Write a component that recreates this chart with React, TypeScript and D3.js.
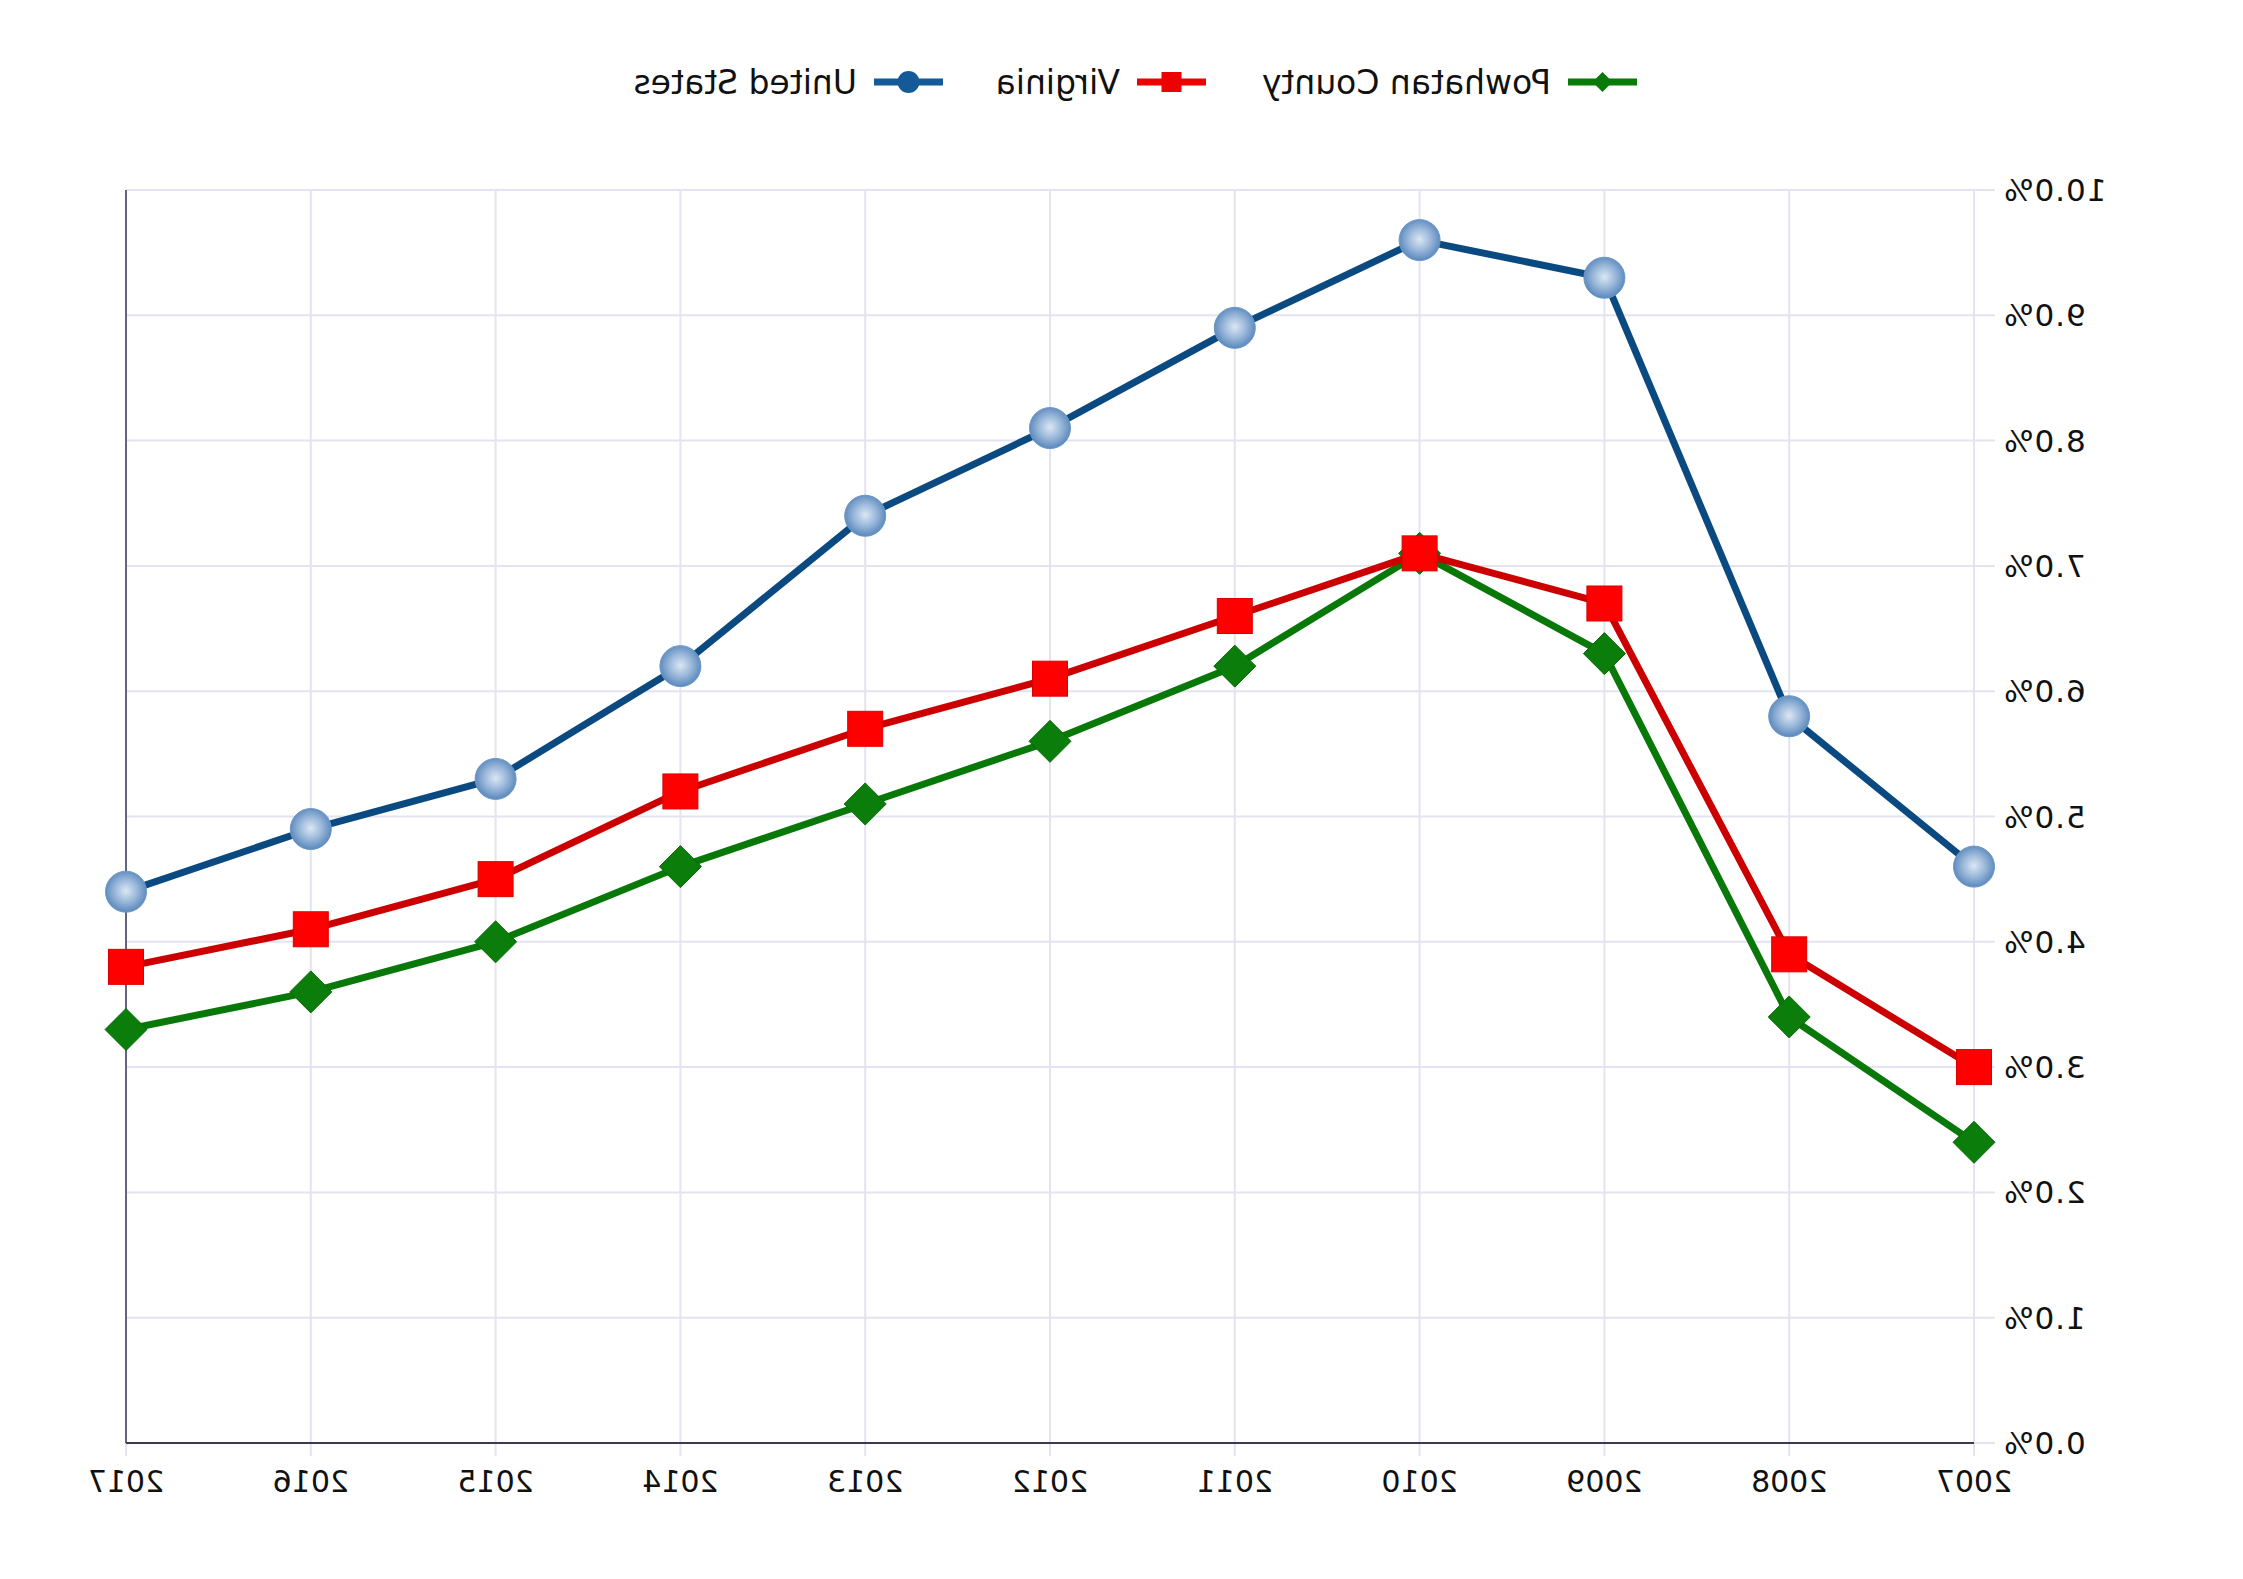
import React from "react";
import * as d3 from "d3";

const years = [2007, 2008, 2009, 2010, 2011, 2012, 2013, 2014, 2015, 2016, 2017];
const unitedStates = [4.6, 5.8, 9.3, 9.6, 8.9, 8.1, 7.4, 6.2, 5.3, 4.9, 4.4];
const virginia = [3.0, 3.9, 6.7, 7.1, 6.6, 6.1, 5.7, 5.2, 4.5, 4.1, 3.8];
const powhatan = [2.4, 3.4, 6.3, 7.1, 6.2, 5.6, 5.1, 4.6, 4.0, 3.6, 3.3];
const yTicks = [0, 1, 2, 3, 4, 5, 6, 7, 8, 9, 10];
const seriesNames = ["Powhatan County", "Virginia", "United States"];

const W = 2243;
const H = 1579;
const FONT = "'DejaVu Sans', Verdana, sans-serif";

export default function App() {
  const x = d3.scaleLinear().domain([2007, 2017]).range([269, 2117]);
  const y = d3.scaleLinear().domain([0, 10]).range([1443, 190]);
  const fmt = d3.format(".1f");

  const mk = (vals: number[]) =>
    d3
      .line<number>()
      .x((_, i) => x(years[i]))
      .y((v) => y(v))(vals) as string;

  const grid = "#e3e3f1";
  const axisDark = "#3a3a58";

  const diamond = (cx: number, cy: number, r: number) =>
    `M${cx},${cy - r}L${cx + r},${cy}L${cx},${cy + r}L${cx - r},${cy}Z`;

  const legendItems = [
    { name: seriesNames[0], x0: 606, color: "#087a08", kind: "diamond" },
    { name: seriesNames[1], x0: 1037, color: "#ee0000", kind: "square" },
    { name: seriesNames[2], x0: 1300, color: "#155a98", kind: "circle" },
  ];

  return (
    <svg
      width={W}
      height={H}
      style={{ position: "absolute", left: 0, top: 0, background: "#fff" }}
    >
      <defs>
        <radialGradient id="ball" cx="50%" cy="48%" r="52%">
          <stop offset="0%" stopColor="#dbe7f3" />
          <stop offset="50%" stopColor="#9dbadb" />
          <stop offset="100%" stopColor="#5a88bd" />
        </radialGradient>
      </defs>
      <rect width={W} height={H} fill="#fff" />
      <g transform={`translate(${W},0) scale(-1,1)`}>
        {/* horizontal grid */}
        {yTicks.map((t) => (
          <g key={"h" + t}>
            <line x1={248} x2={2117} y1={y(t)} y2={y(t)} stroke={grid} strokeWidth={2} />
            <text
              x={240}
              y={y(t)}
              textAnchor="end"
              dominantBaseline="central"
              fontFamily={FONT}
              fontSize={31}
              letterSpacing={1}
              fill="#111"
            >
              {fmt(t) + "%"}
            </text>
          </g>
        ))}
        {/* vertical grid */}
        {years.map((yr) => (
          <g key={"v" + yr}>
            <line x1={x(yr)} x2={x(yr)} y1={190} y2={1456} stroke={grid} strokeWidth={2} />
            <text
              x={x(yr)}
              y={1492}
              textAnchor="middle"
              fontFamily={FONT}
              fontSize={30}
              fill="#111"
            >
              {yr}
            </text>
          </g>
        ))}
        {/* axis lines */}
        <line x1={269} x2={2117} y1={1443} y2={1443} stroke={axisDark} strokeWidth={2} />
        <line x1={2117} x2={2117} y1={190} y2={1443} stroke={axisDark} strokeWidth={1.5} />

        {/* Powhatan */}
        <path d={mk(powhatan)} fill="none" stroke="#087808" strokeWidth={7} strokeLinejoin="round" />
        {powhatan.map((v, i) => (
          <path key={"p" + i} d={diamond(x(years[i]), y(v), 21)} fill="#0a7d0a" stroke="#086a08" strokeWidth={1} />
        ))}
        {/* Virginia */}
        <path d={mk(virginia)} fill="none" stroke="#cc0000" strokeWidth={7} strokeLinejoin="round" />
        {virginia.map((v, i) => (
          <rect
            key={"v" + i}
            x={x(years[i]) - 17.5}
            y={y(v) - 17.5}
            width={35}
            height={35}
            fill="#ff0000"
            stroke="#dd0000"
            strokeWidth={1}
          />
        ))}
        {/* United States */}
        <path d={mk(unitedStates)} fill="none" stroke="#0b4a80" strokeWidth={7} strokeLinejoin="round" />
        {unitedStates.map((v, i) => (
          <circle key={"u" + i} cx={x(years[i])} cy={y(v)} r={20.5} fill="url(#ball)" stroke="#6b97c6" strokeWidth={1} />
        ))}

        {/* legend */}
        {legendItems.map((it) => (
          <g key={it.name}>
            <line x1={it.x0} x2={it.x0 + 69} y1={82} y2={82} stroke={it.color} strokeWidth={7} />
            {it.kind === "circle" && <circle cx={it.x0 + 34.5} cy={82} r={11} fill={it.color} />}
            {it.kind === "square" && (
              <rect x={it.x0 + 34.5 - 10} y={72} width={20} height={20} fill={it.color} />
            )}
            {it.kind === "diamond" && <path d={diamond(it.x0 + 34.5, 82, 10)} fill={it.color} />}
            <text x={it.x0 + 86} y={94} fontFamily={FONT} fontSize={33} fill="#111">
              {it.name}
            </text>
          </g>
        ))}
      </g>
    </svg>
  );
}
